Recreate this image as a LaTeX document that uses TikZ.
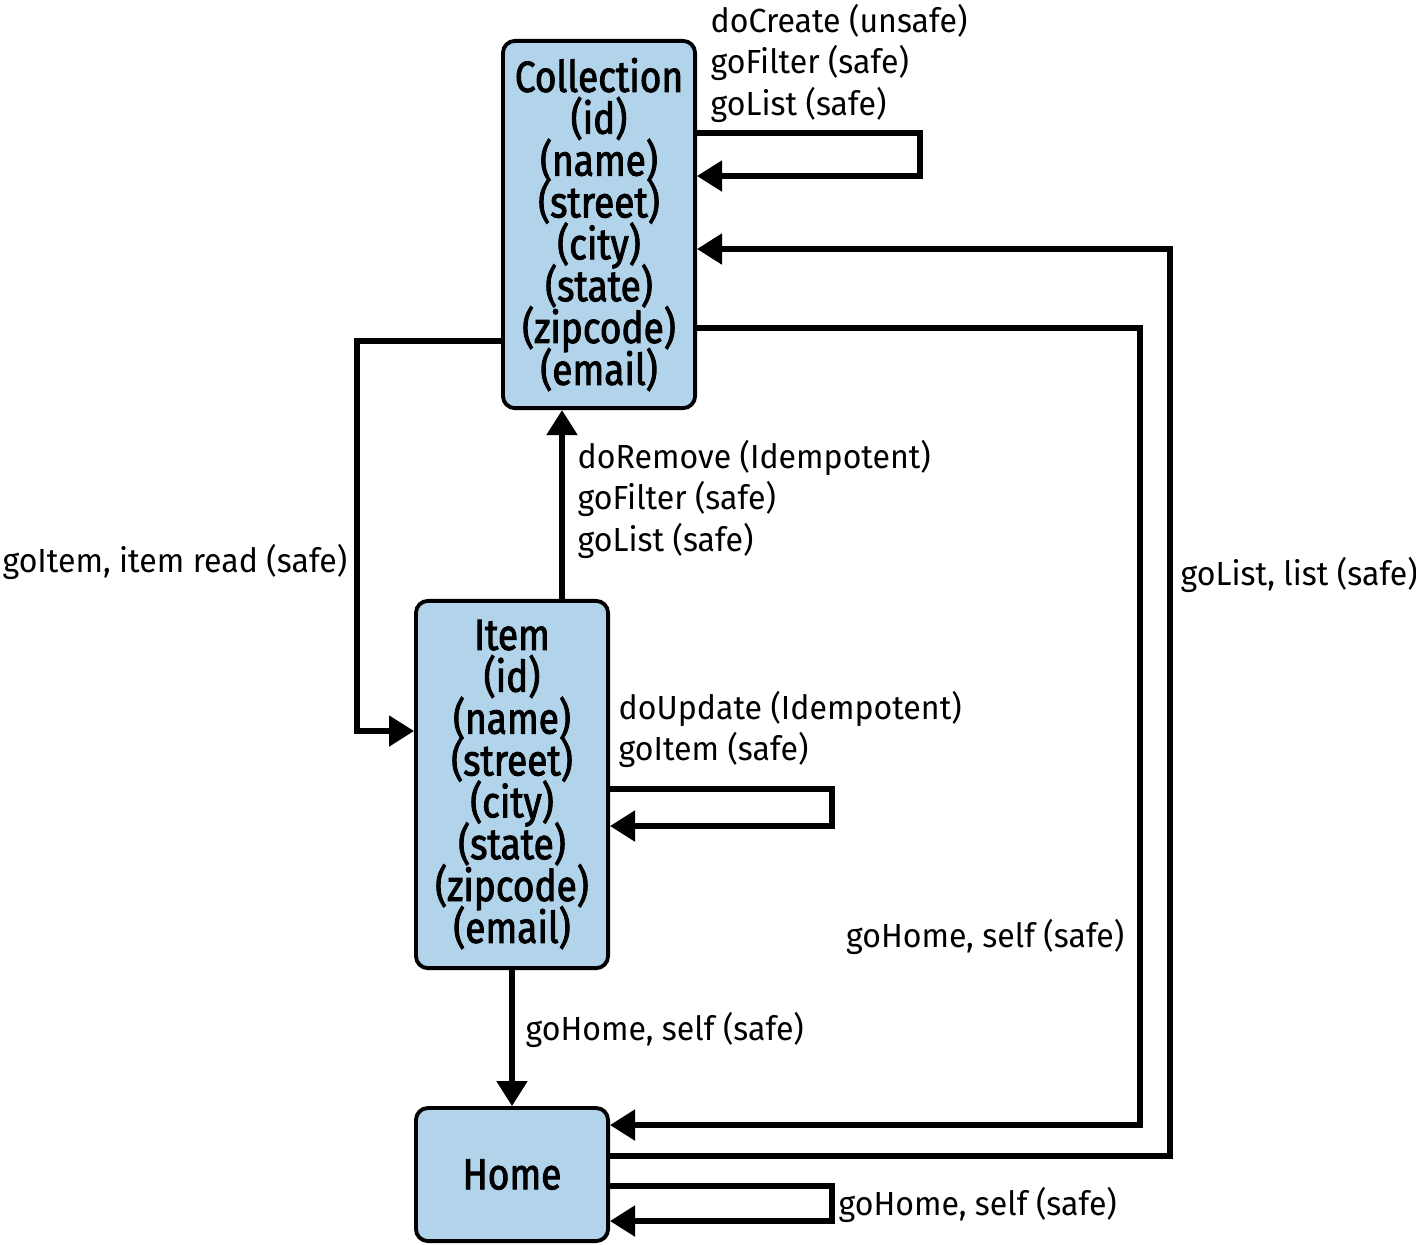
\documentclass[tikz,border=0pt]{standalone}
\usepackage{fontspec}
\setmainfont{Fira Sans}
\newfontfamily\edgefont{Fira Sans}[FakeStretch=0.96]
\newfontfamily\statefont{Fira Sans}[FakeStretch=0.85,FakeBold=2]
\usetikzlibrary{calc,arrows.meta}
\definecolor{stateblue}{RGB}{178,212,234}
\newcommand\tightlines{\lineskiplimit-20pt\lineskip0pt\relax}
\tikzset{
  state/.style={draw, line width=1.1pt, fill=stateblue, rounded corners=1.2mm,
    minimum width=1.92cm, align=center, inner sep=0,
    font={\statefont\fontsize{12.4}{11.9}\selectfont\tightlines}},
  conn/.style={line width=1.45pt, -{Triangle[length=2.5mm,width=3mm]}},
  tag/.style={inner sep=0, align=left,
    font={\edgefont\fontsize{9.5}{11.8}\selectfont\tightlines}}
}
\begin{document}
\begin{tikzpicture}[x=0.01cm,y=-0.01cm]
  \useasboundingbox (0,0) rectangle (1416,1244);

  % states
  \node[state, minimum height=3.67cm] (coll) at (599,224.5)
    {Collection\\(id)\\(name)\\(street)\\(city)\\(state)\\(zipcode)\\(email)};
  \node[state, minimum height=3.67cm] (item) at (512,784.5)
    {Item\\(id)\\(name)\\(street)\\(city)\\(state)\\(zipcode)\\(email)};
  \node[state, minimum height=1.33cm] (home) at (512,1174.5) {Home};

  % collection
  \draw[conn] ($(coll.east)+(0,-91.5)$) -- ++(223,0) |- ($(coll.east)+(0,-48.5)$);
  \node[tag, anchor=west] (tcoll) at (710,63) {doCreate (unsafe)\\goFilter (safe)\\goList (safe)};
  \draw[conn] ($(coll.west)+(0,116.5)$) -- ++(-144,0) |- ($(item.west)+(0,-53.5)$);
  \node[tag, anchor=east] (titem) at (348,562) {goItem, item read (safe)};
  \draw[conn] ($(coll.east)+(0,103.5)$) -- ++(443,0) |- ($(home.east)+(0,-49.5)$);
  \node[tag, anchor=east] (thome) at (1125,937) {goHome, self (safe)};

  % item
  \draw[conn] ($(item.north)+(50,0)$) -- ($(coll.south)+(-37,0)$);
  \node[tag, anchor=west] (tremove) at (577,499) {doRemove (Idempotent)\\goFilter (safe)\\goList (safe)};
  \draw[conn] ($(item.east)+(0,4.5)$) -- ++(222,0) |- ($(item.east)+(0,41.5)$);
  \node[tag, anchor=west] (tupdate) at (618,729.5) {doUpdate (Idempotent)\\goItem (safe)};
  \draw[conn] (item.south) -- (home.north);
  \node[tag, anchor=west] (tihome) at (525,1030) {goHome, self (safe)};

  % home
  \draw[conn] ($(home.east)+(0,-18.5)$) -- ++(560,0) |- ($(coll.east)+(0,24.5)$);
  \node[tag, anchor=west] (tlist) at (1180,575) {goList, list (safe)};
  \draw[conn] ($(home.east)+(0,11.5)$) -- ++(222,0) |- ($(home.east)+(0,46.5)$);
  \node[tag, anchor=west] (tself) at (838,1205) {goHome, self (safe)};
\end{tikzpicture}
\end{document}
